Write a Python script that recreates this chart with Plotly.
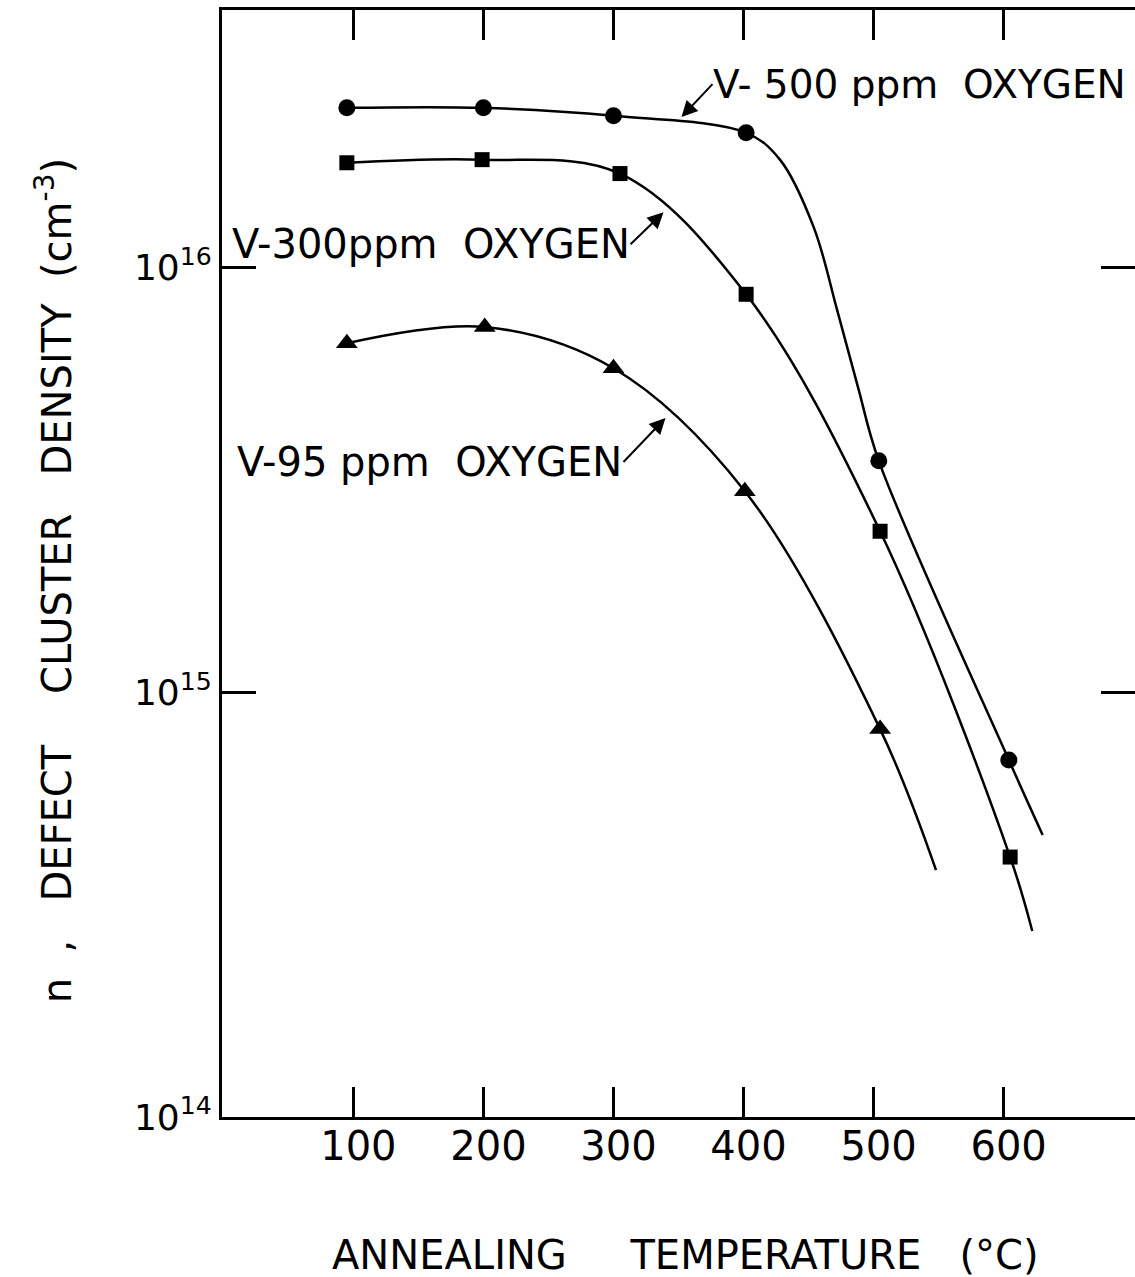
import plotly.graph_objects as go

# ---- data ----
temps_500 = [95, 200, 300, 402, 504, 604]
dens_500 = [2.37e16, 2.37e16, 2.27e16, 2.07e16, 3.5e15, 6.92e14]
curve_t_500 = [95, 200, 300, 402, 428, 454, 472, 488, 504, 604, 630]
curve_d_500 = [2.37e16, 2.37e16, 2.27e16, 2.07e16, 1.79e16, 1.24e16, 7.92e15,
               5.22e15, 3.5e15, 6.92e14, 4.61e14]

temps_300 = [95, 199, 305, 402, 505, 605]
dens_300 = [1.76e16, 1.79e16, 1.66e16, 8.63e15, 2.39e15, 4.09e14]
curve_t_300 = [95, 199, 305, 402, 505, 605, 622]
curve_d_300 = [1.76e16, 1.79e16, 1.66e16, 8.63e15, 2.39e15, 4.09e14, 2.74e14]

temps_95 = [95, 201, 300, 401, 505]
dens_95 = [6.62e15, 7.23e15, 5.78e15, 2.97e15, 8.18e14]
curve_t_95 = [95, 201, 300, 401, 505, 548]
curve_d_95 = [6.62e15, 7.23e15, 5.78e15, 2.97e15, 8.18e14, 3.81e14]

x_ticks = [100, 200, 300, 400, 500, 600]
x_ticktext = ["100", "200", "300", "400", "500", "600"]
y_ticks = [1e14, 1e15, 1e16]
y_ticktext = ["10<sup>14</sup>", "10<sup>15</sup>", "10<sup>16</sup>"]

series_labels = ["V-\u00a0500 ppm\u00a0 OXYGEN", "V-300ppm\u00a0 OXYGEN", "V-95 ppm\u00a0 OXYGEN"]

FONT = "DejaVu Sans"
BLACK = "black"

fig = go.Figure()

for ct, cd in [(curve_t_500, curve_d_500), (curve_t_300, curve_d_300), (curve_t_95, curve_d_95)]:
    fig.add_trace(go.Scatter(x=ct, y=cd, mode="lines",
                             line=dict(color=BLACK, width=2.5, shape="spline", smoothing=1.0),
                             hoverinfo="skip", showlegend=False))

fig.add_trace(go.Scatter(x=temps_500, y=dens_500, mode="markers",
                         marker=dict(symbol="circle", size=17, color=BLACK), showlegend=False))
fig.add_trace(go.Scatter(x=temps_300, y=dens_300, mode="markers",
                         marker=dict(symbol="square", size=15, color=BLACK), showlegend=False))
fig.add_trace(go.Scatter(x=temps_95, y=dens_95, mode="markers",
                         marker=dict(symbol="triangle-up", size=19, color=BLACK), showlegend=False))

annotations = []
# series labels, each with its arrow (x, y = arrow tip; ax, ay = label anchor offset)
label_specs = [
    # text, tip x, tip log10(y), ax, ay, xanchor, font size
    (series_labels[0], 352.3, 16.353, 31, -33, "left", 39),
    (series_labels[1], 338.5, 16.129, -33, 32, "right", 40),
    (series_labels[2], 340.0, 15.645, -42, 44, "right", 40),
]
for txt, tx, ty, ax, ay, xa, fs in label_specs:
    annotations.append(dict(x=tx, y=ty, xref="x", yref="y", text=txt, showarrow=True,
                            ax=ax, ay=ay, xanchor=xa, yanchor="middle",
                            arrowhead=2, arrowsize=1.6, arrowwidth=2, arrowcolor=BLACK,
                            standoff=0, startstandoff=0, borderpad=0,
                            font=dict(family=FONT, size=fs, color=BLACK)))
# axis titles
annotations.append(dict(x=0.508, y=-0.1247, xref="paper", yref="paper",
                        text="ANNEALING\u00a0\u00a0\u00a0\u00a0 TEMPERATURE\u00a0\u00a0 (\u00b0C)",
                        showarrow=False, xanchor="center", yanchor="middle",
                        font=dict(family=FONT, size=40, color=BLACK)))
annotations.append(dict(x=-0.184, y=0.484, xref="paper", yref="paper",
                        text="n\u00a0 ,\u00a0\u00a0 DEFECT\u00a0\u00a0\u00a0 CLUSTER\u00a0\u00a0 DENSITY\u00a0 (cm<sup>-3</sup>)",
                        showarrow=False, xanchor="center", yanchor="middle", textangle=-90,
                        font=dict(family=FONT, size=40, color=BLACK)))

fig.update_layout(
    width=1135, height=1277,
    margin=dict(l=222, r=0, t=10, b=160, autoexpand=False),
    paper_bgcolor="white", plot_bgcolor="white",
    showlegend=False,
    annotations=annotations,
    xaxis=dict(range=[-1, 701], tickvals=x_ticks, ticktext=x_ticktext,
               ticks="inside", ticklen=30, tickwidth=2.5, tickcolor=BLACK,
               showline=True, linewidth=3, linecolor=BLACK, mirror="ticks",
               showgrid=False, zeroline=False,
               ticklabelstandoff=-8, ticklabelshift=5,
               tickfont=dict(family=FONT, size=40, color=BLACK)),
    yaxis=dict(type="log", range=[14, 16.605], tickvals=y_ticks, ticktext=y_ticktext,
               ticks="inside", ticklen=34, tickwidth=2.5, tickcolor=BLACK,
               showline=True, linewidth=3, linecolor=BLACK, mirror="ticks",
               showgrid=False, zeroline=False,
               tickfont=dict(family=FONT, size=36, color=BLACK)),
)

fig.write_html("out.html")
